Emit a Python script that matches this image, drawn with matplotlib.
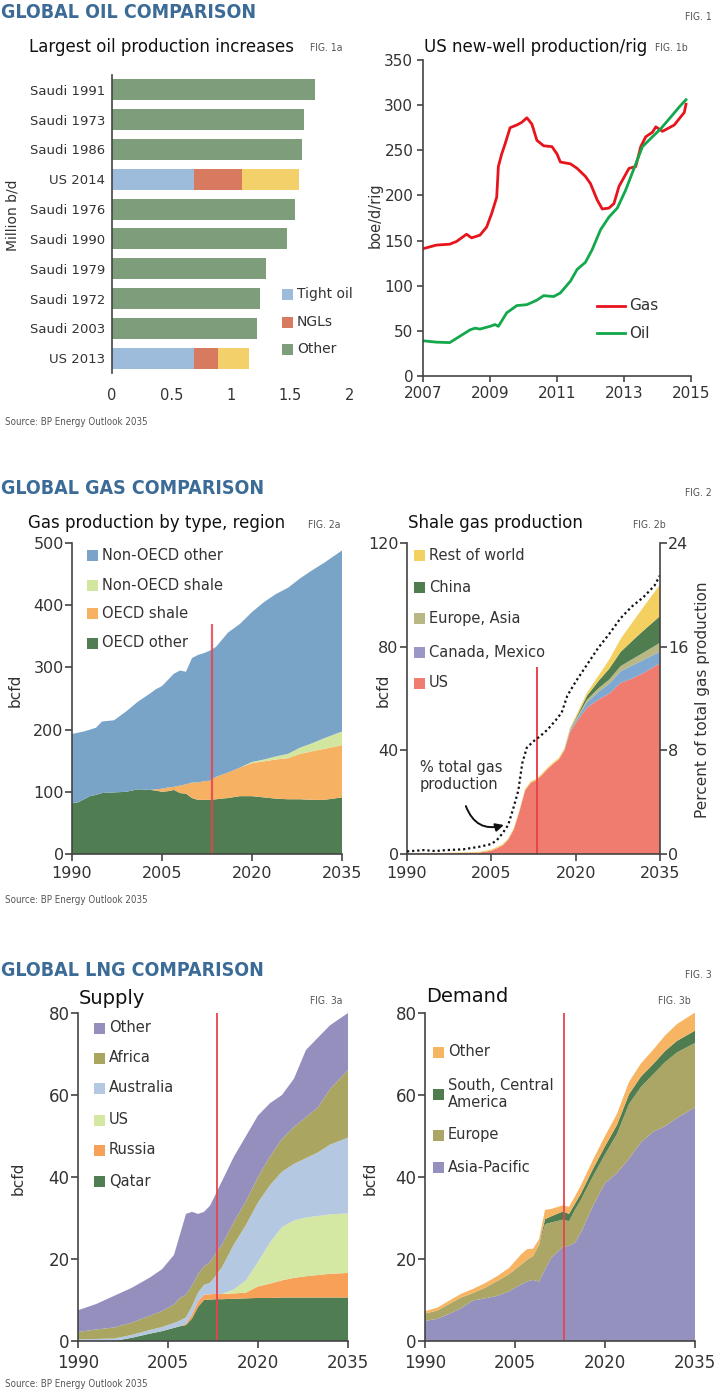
import numpy as np
import matplotlib
matplotlib.use('Agg')
import matplotlib.pyplot as plt
from matplotlib.patches import Rectangle
from matplotlib.lines import Line2D

W, H = 720, 1392
plt.rcParams['font.family'] = ['DejaVu Sans']
TXT = '#333333'
HEAD = '#3b6b96'
RED = '#e8434d'

# ---- FIG 1a: largest oil production increases (million b/d)
bar_labels = ['Saudi 1991', 'Saudi 1973', 'Saudi 1986', 'US 2014', 'Saudi 1976',
              'Saudi 1990', 'Saudi 1979', 'Saudi 1972', 'Saudi 2003', 'US 2013']
tight_oil = [0, 0, 0, 0.69, 0, 0, 0, 0, 0, 0.69]
ngls = [0, 0, 0, 0.40, 0, 0, 0, 0, 0, 0.20]
other_oil = [1.71, 1.61, 1.60, 0.48, 1.54, 1.47, 1.29, 1.24, 1.22, 0.26]

# ---- FIG 1b: US new-well production per rig (boe/d/rig)
gas_years = [2007.0, 2007.4, 2007.8, 2008.0, 2008.3, 2008.45, 2008.7, 2008.9, 2009.05,
             2009.2, 2009.25, 2009.35, 2009.45, 2009.6, 2009.8, 2009.95, 2010.1, 2010.25,
             2010.4, 2010.6, 2010.85, 2011.0, 2011.1, 2011.4, 2011.6, 2011.85, 2012.0,
             2012.2, 2012.35, 2012.55, 2012.7, 2012.85, 2013.0, 2013.15, 2013.35, 2013.5,
             2013.65, 2013.85, 2013.95, 2014.15, 2014.35, 2014.5, 2014.65, 2014.8, 2014.85]
gas_rig = [141, 145, 146, 149, 157, 153, 156, 165, 180, 198, 232, 246, 257, 275, 278, 281,
           286, 279, 261, 255, 254, 246, 237, 235, 230, 221, 213, 195, 185, 186, 191, 210,
           220, 230, 232, 254, 265, 270, 276, 271, 275, 278, 285, 292, 301]
oil_years = [2007.0, 2007.4, 2007.8, 2008.1, 2008.4, 2008.55, 2008.7, 2009.0, 2009.15,
             2009.25, 2009.5, 2009.8, 2010.1, 2010.4, 2010.6, 2010.9, 2011.1, 2011.4,
             2011.6, 2011.85, 2012.05, 2012.3, 2012.55, 2012.8, 2013.05, 2013.3, 2013.55,
             2013.85, 2014.1, 2014.4, 2014.65, 2014.85]
oil_rig = [39, 37.5, 37, 44, 51, 53, 52, 55, 57, 55, 70, 78, 79, 84, 89, 88, 92, 105, 118,
           126, 140, 162, 176, 186, 206, 230, 254, 265, 274, 287, 298, 306]

# ---- FIG 2a: gas production by type, region (bcfd)
g_years = [1990, 1991, 1992, 1993, 1994, 1995, 1997, 1999, 2001, 2003, 2004, 2005, 2006,
           2007, 2008, 2009, 2010, 2011, 2012, 2013, 2014, 2016, 2018, 2020, 2022, 2024,
           2026, 2028, 2030, 2032, 2035]
oecd_other = [82, 83, 88, 93, 95, 98, 99, 100, 104, 103, 102, 100, 101, 103, 98, 97, 90, 87,
              87, 87, 88, 90, 93, 93, 91, 89, 88, 88, 87, 87, 91]
oecd_shale = [0, 0, 0, 0, 0, 0, 0, 0, 0, 0, 2, 5, 6, 5, 12, 15, 25, 28, 30, 31, 36, 41, 46,
              53, 58, 63, 66, 73, 78, 82, 84]
nonoecd_shale = [0, 0, 0, 0, 0, 0, 0, 0, 0, 0, 0, 0, 0, 0, 0, 0, 0, 0, 0, 0, 0, 0, 0, 2, 3,
                 5, 7, 10, 13, 17, 22]
nonoecd_other = [111, 112, 109, 107, 108, 115, 116, 129, 141, 155, 161, 165, 173, 182, 185,
                 181, 200, 205, 206, 209, 209, 225, 231, 241, 253, 261, 267, 272, 278, 282, 291]

# ---- FIG 2b: shale gas production (bcfd) and share of total gas (%)
s_years = [1990, 1993, 1996, 2000, 2003, 2005, 2006, 2007, 2008, 2009, 2010, 2011, 2012,
           2013, 2014, 2015, 2016, 2017, 2018, 2019, 2020, 2022, 2024, 2026, 2028, 2030,
           2032, 2035]
sh_us = [0.3, 0.3, 0.3, 0.4, 0.6, 1.3, 2.2, 3.3, 5.5, 9.5, 16.5, 24.5, 27.5, 28.5, 30.5,
         32.8, 34.8, 36.5, 40, 47, 50.5, 56.5, 59.5, 62, 66, 67.7, 69.8, 73.6]
sh_canmex = [0, 0, 0, 0, 0, 0, 0, 0, 0, 0, 0, 0, 0, 0, 0, 0, 0, 0, 0.2, 0.5, 0.8, 2.0, 3.0,
             3.8, 4.5, 5.0, 5.0, 4.5]
sh_euras = [0, 0, 0, 0, 0, 0, 0, 0, 0, 0, 0, 0, 0, 0, 0, 0, 0, 0, 0, 0.2, 0.4, 1.0, 1.3,
            1.6, 2.0, 2.4, 2.8, 3.4]
sh_china = [0, 0, 0, 0, 0, 0, 0, 0, 0, 0, 0, 0, 0, 0, 0, 0, 0, 0, 0, 0.3, 0.5, 1.5, 2.8,
            4.2, 5.5, 7.0, 8.5, 10.3]
sh_rest = [0.1, 0.1, 0.1, 0.2, 0.3, 0.4, 0.5, 0.5, 0.5, 0.5, 0.5, 0.5, 0.5, 0.5, 0.5, 0.5,
           0.5, 0.6, 0.6, 0.7, 0.8, 1.2, 2.0, 3.5, 5.0, 7.0, 9.0, 12.2]
pct_years = [1990, 1993, 1995, 1997, 2000, 2003, 2005, 2006, 2007, 2008, 2009, 2009.8,
             2010.5, 2011.3, 2012.5, 2013.6, 2015, 2016.5, 2017.5, 2018.5, 2020, 2022, 2024,
             2026, 2028, 2030, 2032, 2034, 2035]
pct_total = [0.2, 0.3, 0.23, 0.3, 0.36, 0.57, 0.77, 1.08, 1.6, 2.24, 3.66, 4.9, 7.0, 8.2,
             8.7, 9.06, 9.6, 10.35, 10.9, 12.2, 13.3, 14.6, 15.9, 17.0, 18.2, 19.1, 19.8,
             20.7, 21.5]

# ---- FIG 3a: LNG supply (bcfd)
l_years = [1990, 1993, 1996, 1999, 2002, 2004, 2006, 2007, 2008, 2009, 2010, 2011, 2012,
           2013, 2014, 2016, 2018, 2020, 2022, 2024, 2026, 2028, 2030, 2032, 2035]
sup_qatar = [0, 0, 0, 0.8, 1.8, 2.4, 3.2, 3.6, 3.9, 5.5, 8.3, 10.0, 10.1, 10.2, 10.2, 10.3,
             10.4, 10.5, 10.5, 10.6, 10.6, 10.6, 10.6, 10.6, 10.6]
sup_russia = [0, 0, 0, 0, 0, 0, 0, 0, 0.3, 1.0, 1.3, 1.3, 1.3, 1.3, 1.3, 1.3, 1.4, 2.8, 3.5,
              4.2, 4.8, 5.2, 5.5, 5.8, 6.0]
sup_us = [0, 0, 0, 0, 0, 0, 0, 0, 0, 0, 0, 0, 0, 0, 0, 1.0, 3.0, 6.0, 10.0, 13.0, 14.0,
          14.3, 14.4, 14.5, 14.5]
sup_australia = [0.4, 0.5, 0.6, 0.7, 0.9, 1.0, 1.2, 1.4, 1.6, 2.0, 2.2, 2.4, 2.8, 4.5, 6.5,
                 11.0, 13.5, 14.5, 14.0, 13.5, 13.8, 14.5, 15.5, 17.0, 18.5]
sup_africa = [1.8, 2.3, 2.7, 3.0, 3.5, 3.9, 4.5, 5.5, 5.5, 5.0, 4.5, 4.5, 5.0, 5.5, 5.5,
              5.5, 5.8, 6.2, 7.0, 8.0, 9.0, 10.0, 11.0, 13.5, 16.5]
sup_other = [5.3, 6.2, 7.7, 8.5, 9.3, 10.2, 12.1, 15.5, 19.7, 18.0, 14.7, 13.3, 13.8, 14.5,
             15.5, 15.9, 15.9, 15.0, 13.0, 10.7, 11.8, 16.4, 17.0, 15.6, 13.9]

# ---- FIG 3b: LNG demand (bcfd)
d_years = [1990, 1992, 1994, 1996, 1998, 2000, 2002, 2004, 2006, 2007, 2008, 2009, 2010,
           2011, 2013, 2014, 2015, 2016, 2018, 2020, 2022, 2024, 2026, 2028, 2030, 2032, 2035]
dem_asia = [4.9, 5.4, 6.6, 8.0, 9.9, 10.4, 11.0, 12.1, 13.8, 14.5, 14.9, 14.5, 17.5, 20.2,
            23.0, 23.2, 24.0, 26.5, 33.0, 38.5, 41.0, 44.5, 48.5, 51.0, 52.4, 54.4, 57.0]
dem_europe = [1.8, 2.0, 2.4, 2.6, 1.8, 2.6, 3.6, 4.2, 4.8, 5.3, 5.8, 8.5, 11.0, 8.7, 6.6,
              6.0, 8.0, 8.0, 7.2, 7.0, 9.5, 13.3, 13.5, 14.0, 15.6, 16.0, 15.7]
dem_scam = [0, 0, 0, 0, 0, 0, 0, 0, 0, 0, 0, 0.3, 1.2, 1.5, 2.0, 1.8, 1.5, 1.5, 1.8, 2.0,
            2.2, 2.4, 2.5, 2.5, 2.7, 2.8, 3.0]
dem_other = [0.6, 0.7, 0.8, 0.9, 1.0, 1.1, 1.2, 1.5, 2.5, 2.6, 1.8, 1.5, 2.3, 1.8, 1.5, 1.7,
             1.8, 2.0, 2.2, 2.5, 2.7, 3.0, 3.2, 3.5, 3.8, 4.1, 4.4]

OUTLOOK_START = 2013.3

fig = plt.figure(figsize=(W / 100, H / 100), dpi=100)


def fx(x):
    return x / W


def fy(y):
    return 1 - y / H


def add_ax(l, t, r, b):
    return fig.add_axes([fx(l), fy(b), (r - l) / W, (b - t) / H])


def text_px(x, y, s, **kw):
    kw.setdefault('va', 'center')
    kw.setdefault('color', TXT)
    fig.text(fx(x), fy(y), s, **kw)


def small_px(x, y, s, size=7.5, **kw):
    # the condensed captions (FIG. numbers, source line)
    text_px(x, y, s, fontsize=size, color='#555555', fontstretch='condensed', **kw)


def swatch(x, y, c, s=11):
    fig.add_artist(Rectangle((fx(x), fy(y + s / 2)), s / W, s / H, facecolor=c, lw=0,
                             transform=fig.transFigure))


def legend_px(x, ys, labels, colors, size=10.5):
    for y, lab, c in zip(ys, labels, colors):
        swatch(x, y, c)
        text_px(x + 15, y, lab, fontsize=size)


def style_axes(ax, fs=11.5):
    for side in ['top', 'right']:
        ax.spines[side].set_visible(False)
    for side in ['left', 'bottom']:
        ax.spines[side].set_color('#444444')
        ax.spines[side].set_linewidth(1.2)
    ax.tick_params(colors='#444444', labelcolor=TXT, labelsize=fs, width=1.2, length=5)


def title_px(x, y, s, size=12):
    text_px(x, y, s, fontsize=size, color='#111111')


# headers and figure numbers
for y, head, num in [(12, 'GLOBAL OIL COMPARISON', 'FIG. 1'),
                     (488, 'GLOBAL GAS COMPARISON', 'FIG. 2'),
                     (970, 'GLOBAL LNG COMPARISON', 'FIG. 3')]:
    text_px(1, y, head, fontsize=14, fontweight='bold', color=HEAD, fontstretch='condensed')
    small_px(712, y + 5, num, ha='right')
for y in [422, 900, 1384]:
    small_px(5, y, 'Source: BP Energy Outlook 2035', size=7)

# ---------------- FIG 1a
ax = add_ax(112, 75, 350, 373)
pos = np.arange(len(bar_labels))
is_us = [lab.startswith('US') for lab in bar_labels]
left2 = np.add(tight_oil, ngls)
ax.barh(pos, tight_oil, height=0.7, color='#9dbcdc')
ax.barh(pos, ngls, left=tight_oil, height=0.7, color='#d87a60')
ax.barh(pos, other_oil, left=left2, height=0.7,
        color=['#f4d06a' if u else '#7e9d7a' for u in is_us])
ax.set_ylim(len(bar_labels) - 0.5, -0.5)
ax.set_xlim(0, 2)
ax.set_yticks(pos)
ax.set_yticklabels(bar_labels)
ax.set_xticks([0, 0.5, 1, 1.5, 2])
ax.set_xticklabels(['0', '0.5', '1', '1.5', '2'])
style_axes(ax)
ax.spines['bottom'].set_visible(False)
ax.tick_params(axis='y', length=0, pad=5, labelsize=9.5)
ax.tick_params(axis='x', length=0, pad=11, labelsize=10.5)
title_px(29, 47, 'Largest oil production increases')
small_px(310, 48, 'FIG. 1a')
text_px(13, 215, 'Million b/d', fontsize=10, rotation=90, ha='center')
legend_px(282, [294, 322, 349], ['Tight oil', 'NGLs', 'Other'],
          ['#9dbcdc', '#d87a60', '#7e9d7a'], size=10)

# ---------------- FIG 1b
ax = add_ax(423, 60, 691, 376)
ax.plot(gas_years, gas_rig, color='#e8141c', lw=2)
ax.plot(oil_years, oil_rig, color='#12a84b', lw=2)
ax.set_xlim(2007, 2015)
ax.set_ylim(0, 350)
ax.set_xticks([2007, 2009, 2011, 2013, 2015])
ax.set_yticks(range(0, 351, 50))
style_axes(ax, fs=11)
ax.tick_params(length=4, pad=3)
title_px(424, 47, 'US new-well production/rig')
small_px(655, 48, 'FIG. 1b')
text_px(375, 215, 'boe/d/rig', fontsize=10.5, rotation=90, ha='center')
for y, lab, c in [(306, 'Gas', '#e8141c'), (333, 'Oil', '#12a84b')]:
    fig.add_artist(Line2D([fx(597), fx(625)], [fy(y), fy(y)], color=c, lw=2,
                          transform=fig.transFigure))
    text_px(629, y, lab, fontsize=11)

# ---------------- FIG 2a
ax = add_ax(72, 543, 342, 854)
c2a = ['#517d52', '#f7b163', '#d3e6a0', '#7aa3c8']
ax.stackplot(g_years, oecd_other, oecd_shale, nonoecd_shale, nonoecd_other,
             colors=c2a, lw=0)
ax.vlines(OUTLOOK_START, 0, 370, color=RED, lw=1.6, alpha=0.85)
ax.set_xlim(1990, 2035)
ax.set_ylim(0, 500)
ax.set_xticks([1990, 2005, 2020, 2035])
ax.set_yticks(range(0, 501, 100))
style_axes(ax)
ax.tick_params(axis='y', pad=1)
ax.tick_params(axis='x', pad=4)
title_px(28, 523, 'Gas production by type, region')
small_px(308, 525, 'FIG. 2a')
text_px(15, 690, 'bcfd', fontsize=11, rotation=90, ha='center')
legend_px(87, [555, 585, 614, 643],
          ['Non-OECD other', 'Non-OECD shale', 'OECD shale', 'OECD other'], c2a[::-1])

# ---------------- FIG 2b
ax = add_ax(407, 543, 660, 854)
c2b = ['#f07b6f', '#7ea8d2', '#b9b784', '#4f7d4f', '#f3d060']
ax.stackplot(s_years, sh_us, sh_canmex, sh_euras, sh_china, sh_rest, colors=c2b, lw=0)
ax.vlines(OUTLOOK_START - 0.2, 0, 72, color=RED, lw=1.4)
ax.set_xlim(1990, 2035)
ax.set_ylim(0, 120)
ax.set_xticks([1990, 2005, 2020, 2035])
ax.set_yticks([0, 40, 80, 120])
style_axes(ax)
ax.tick_params(axis='y', pad=1)
ax.tick_params(axis='x', pad=4)
axr = ax.twinx()
axr.plot(pct_years, pct_total, color='#111111', ls=(0, (1, 1.3)), lw=1.6)
axr.set_ylim(0, 24)
axr.set_yticks([0, 8, 16, 24])
for side in ['top', 'left', 'bottom']:
    axr.spines[side].set_visible(False)
axr.spines['right'].set_color('#444444')
axr.spines['right'].set_linewidth(1.2)
axr.tick_params(colors='#444444', labelcolor=TXT, labelsize=11.5, width=1.2, length=5, pad=1)
axr.text(1992.3, 6.0, '% total gas\nproduction', fontsize=10.5, color=TXT, va='center',
         linespacing=1.2)
axr.annotate('', xy=(2007.7, 2.3), xytext=(2000.3, 3.9),
             arrowprops=dict(arrowstyle='-|>', connectionstyle='arc3,rad=0.5',
                             color='#111111', lw=1.4, mutation_scale=12))
title_px(408, 523, 'Shale gas production')
small_px(633, 525, 'FIG. 2b')
text_px(383, 690, 'bcfd', fontsize=11, rotation=90, ha='center')
text_px(703, 700, 'Percent of total gas production', fontsize=11, rotation=90,
        ha='center')
legend_px(414, [555, 587, 619, 652, 683],
          ['Rest of world', 'China', 'Europe, Asia', 'Canada, Mexico', 'US'],
          ['#f3d060', '#4f7d4f', '#b9b784', '#9a97c8', '#f07b6f'])

# ---------------- FIG 3a
ax = add_ax(78, 1013, 348, 1341)
c3a = ['#517d52', '#f7a058', '#d5e8a3', '#b4c8e1', '#aba562', '#958fbe']
ax.stackplot(l_years, sup_qatar, sup_russia, sup_us, sup_australia, sup_africa, sup_other,
             colors=c3a, lw=0)
ax.axvline(OUTLOOK_START - 0.1, color=RED, lw=1.3)
ax.set_xlim(1990, 2035)
ax.set_ylim(0, 80)
ax.set_xticks([1990, 2005, 2020, 2035])
ax.set_yticks(range(0, 81, 20))
style_axes(ax, fs=12)
ax.tick_params(axis='y', pad=1)
ax.tick_params(axis='x', pad=4)
title_px(79, 998, 'Supply', size=14)
small_px(310, 1001, 'FIG. 3a')
text_px(18, 1178, 'bcfd', fontsize=11, rotation=90, ha='center')
legend_px(94, [1028, 1058, 1088, 1120, 1150, 1181],
          ['Other', 'Africa', 'Australia', 'US', 'Russia', 'Qatar'], c3a[::-1])

# ---------------- FIG 3b
ax = add_ax(425, 1013, 695, 1341)
c3b = ['#9591bf', '#aba566', '#4f7d4f', '#f7b463']
ax.stackplot(d_years, dem_asia, dem_europe, dem_scam, dem_other, colors=c3b, lw=0)
ax.axvline(OUTLOOK_START - 0.1, color=RED, lw=1.3)
ax.set_xlim(1990, 2035)
ax.set_ylim(0, 80)
ax.set_xticks([1990, 2005, 2020, 2035])
ax.set_yticks(range(0, 81, 20))
style_axes(ax, fs=12)
ax.tick_params(axis='y', pad=1)
ax.tick_params(axis='x', pad=4)
title_px(426, 997, 'Demand', size=14)
small_px(658, 1001, 'FIG. 3b')
text_px(370, 1178, 'bcfd', fontsize=11, rotation=90, ha='center')
legend_px(433, [1052, 1094, 1135, 1167],
          ['Other', 'South, Central\nAmerica', 'Europe', 'Asia-Pacific'], c3b[::-1])

fig.savefig('out.png', dpi=100)
